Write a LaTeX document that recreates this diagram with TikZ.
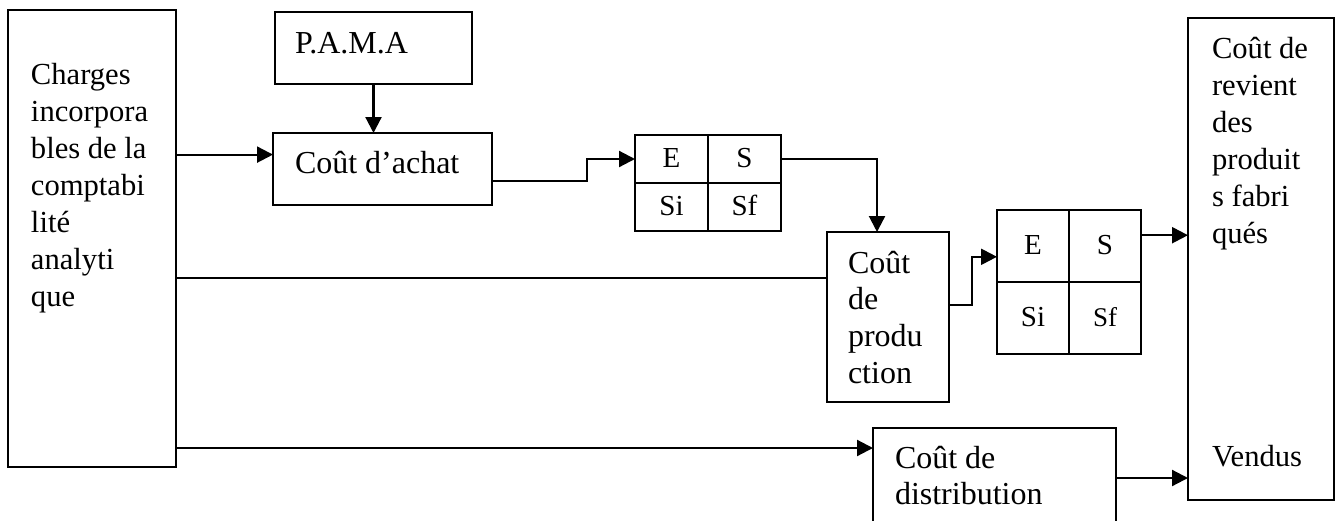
\documentclass[tikz,border=0pt]{standalone}
\usepackage{fontspec}
\setmainfont{Liberation Serif}
\usetikzlibrary{positioning,calc,arrows.meta}
\newcommand\inbox[5]{%
    \parbox[t][#2][t]{#1}{\raggedright\leftskip=#3\relax\rule{0pt}{#4}#5}}
\tikzset{
  box/.style={draw, line width=1.1pt, anchor=north west, inner sep=0pt, outer sep=0pt},
  tall/.style={box, font=\fontsize{15.3}{18.5}\selectfont},
  cell/.style={draw, line width=1.1pt, inner sep=0pt, outer sep=0pt,
    text height=10pt, text depth=2pt, font=\fontsize{14.5}{16}\selectfont},
  cellA/.style={cell, minimum width=36.5pt, minimum height=24pt},
  cellB/.style={cell, minimum width=36pt, minimum height=36pt},
  fleche/.style={line width=1.1pt, -{Triangle[length=8pt,width=8pt]}},
  trait/.style={line width=1.1pt},
}
\begin{document}
\begin{tikzpicture}[x=0.5pt, y=-0.5pt, font=\fontsize{16}{18.35}\selectfont]
  \useasboundingbox (0,0) rectangle (1339,520);
  % les blocs de couts
  \node[tall] (charges) at (8,10) {\inbox{84pt}{228.5pt}{11.5pt}{37pt}{Charges\\incorpora\\bles de la\\comptabi\\lité\\analyti\\que}};
  \node[box] (pama) at (275,12) {\inbox{98.5pt}{36pt}{10pt}{20.5pt}{P.A.M.A}};
  \node[box] (achat) at (273,133) {\inbox{109.5pt}{36pt}{11pt}{20pt}{Coût d'achat}};
  \node[box] (prod) at (827,232) {\inbox{61pt}{85pt}{10.5pt}{20.5pt}{Coût\\de\\produ\\ction}};
  \node[box] (dist) at (873,428) {\inbox{121.5pt}{50pt}{11pt}{20pt}{Coût de\\distribution}};
  \node[tall] (revient) at (1188,18) {\inbox{73pt}{241pt}{12pt}{20pt}{Coût de\\revient\\des\\produit\\s fabri\\qués\\[93pt]Vendus}};

  % fiches de stock
  \node[cellA, anchor=north west] (E1) at (635,135) {E};
  \node[cellA, right=0pt of E1] (S1) {S};
  \node[cellA, below=0pt of E1] (Si1) {Si};
  \node[cellA, right=0pt of Si1] (Sf1) {Sf};
  \node[cellB, anchor=north west] (E2) at (997,210) {E};
  \node[cellB, right=0pt of E2] (S2) {S};
  \node[cellB, below=0pt of E2] (Si2) {Si};
  \node[cellB, right=0pt of Si2, font=\fontsize{13.5}{16}\selectfont] (Sf2) {Sf};

  % flux
  \draw[fleche] (pama.south) -- (pama.south |- achat.north);
  \coordinate (a1) at ($(achat.north west)!.3!(achat.south west)$);
  \draw[fleche] (charges.east |- a1) -- (a1);
  \draw[fleche] ($(achat.north east)!.67!(achat.south east)$) -- ++(95,0) |- (E1.west);
  \draw[fleche] (S1.east) -| ($(prod.north west)!.41!(prod.north east)$);
  \coordinate (p1) at ($(prod.north west)!.27!(prod.south west)$);
  \draw[trait] (charges.east |- p1) -- (p1);
  \coordinate (d1) at ($(dist.north west)!.2!(dist.south west)$);
  \draw[fleche] (charges.east |- d1) -- (d1);
  \draw[fleche] ($(prod.north east)!.43!(prod.south east)$) -- ++(23,0) |- ($(E2.north west)!.65!(E2.south west)$);
  \coordinate (s2) at ($(S2.north east)!.35!(S2.south east)$);
  \draw[fleche] (s2) -- (s2 -| revient.west);
  \draw[fleche] (dist.east) -- (dist.east -| revient.west);
\end{tikzpicture}
\end{document}
